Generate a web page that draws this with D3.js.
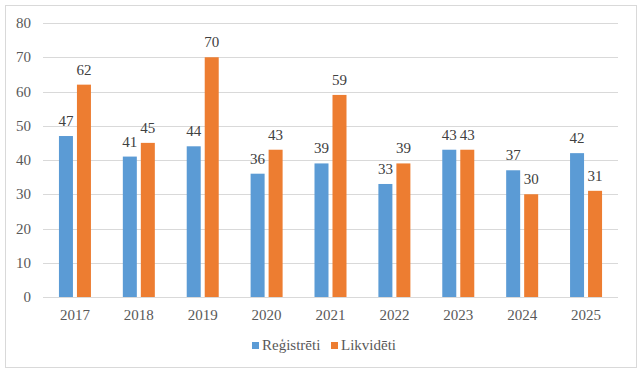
<!DOCTYPE html>
<html>
<head>
<meta charset="utf-8">
<script src="https://cdn.jsdelivr.net/npm/d3@7"></script>
<style>
  body { margin: 0; background: #fff; font-family: "Liberation Serif", serif; }
</style>
</head>
<body>
<svg id="chart" width="643" height="373"></svg>
<script>
// Chart data
const years = ["2017", "2018", "2019", "2020", "2021", "2022", "2023", "2024", "2025"];
const registreti = [47, 41, 44, 36, 39, 33, 43, 37, 42];
const likvideti = [62, 45, 70, 43, 59, 39, 43, 30, 31];
const seriesNames = ["Reģistrēti", "Likvidēti"];
const yTicks = [0, 10, 20, 30, 40, 50, 60, 70, 80];

const colors = ["#5B9BD5", "#ED7D31"];
const serifFont = "'Liberation Serif', 'Times New Roman', serif";

const svg = d3.select("#chart");
const margin = { left: 43, right: 25, top: 23, bottom: 76 };
const width = 643, height = 373;

// outer border
svg.append("rect")
    .attr("x", 5.5).attr("y", 5.5)
    .attr("width", 631).attr("height", 362)
    .attr("fill", "#fff")
    .attr("stroke", "#d9d9d9")
    .attr("stroke-width", 1);

const x = d3.scaleBand()
    .domain(years)
    .range([margin.left, width - margin.right]);

const y = d3.scaleLinear()
    .domain([0, 80])
    .range([height - margin.bottom, margin.top]);

// gridlines
svg.append("g")
    .selectAll("line")
    .data(yTicks)
    .join("line")
    .attr("x1", margin.left)
    .attr("x2", width - margin.right)
    .attr("y1", d => Math.round(y(d)) + 0.5)
    .attr("y2", d => Math.round(y(d)) + 0.5)
    .attr("stroke", "#d9d9d9")
    .attr("stroke-width", 1);

// y labels
svg.append("g")
    .selectAll("text")
    .data(yTicks)
    .join("text")
    .attr("x", 31)
    .attr("y", d => y(d) + 5)
    .attr("text-anchor", "end")
    .attr("fill", "#595959")
    .text(d => d);

// x labels
svg.append("g")
    .selectAll("text")
    .data(years)
    .join("text")
    .attr("x", d => x(d) + x.bandwidth() / 2)
    .attr("y", y(0) + 23)
    .attr("text-anchor", "middle")
    .attr("fill", "#595959")
    .text(d => d);

// bars
const barW = 14, gap = 4;
const series = [registreti, likvideti];
series.forEach((vals, s) => {
    const off = s === 0 ? -gap / 2 - barW : gap / 2;
    const g = svg.append("g");
    g.selectAll("rect")
        .data(vals)
        .join("rect")
        .attr("x", (d, i) => x(years[i]) + x.bandwidth() / 2 + off)
        .attr("y", d => y(d))
        .attr("width", barW)
        .attr("height", d => y(0) - y(d))
        .attr("fill", colors[s]);
    g.selectAll("text")
        .data(vals)
        .join("text")
        .attr("x", (d, i) => x(years[i]) + x.bandwidth() / 2 + off + barW / 2)
        .attr("y", d => y(d) - 10)
        .attr("text-anchor", "middle")
        .attr("fill", "#404040")
        .text(d => d);
});

// legend
const legendX = [252, 331];
seriesNames.forEach((name, s) => {
    svg.append("rect")
        .attr("x", legendX[s])
        .attr("y", 342)
        .attr("width", 7)
        .attr("height", 7)
        .attr("fill", colors[s]);
    svg.append("text")
        .attr("x", legendX[s] + 10)
        .attr("y", 350)
        .attr("fill", "#595959")
        .text(name);
});

// font on all text, applied again once the font is ready
function applyFont() {
    svg.selectAll("text")
        .attr("font-family", serifFont)
        .attr("font-size", 15)
        .style("font-family", serifFont);
}
applyFont();
if (document.fonts && document.fonts.load) {
    document.fonts.load("15px 'Liberation Serif'").then(applyFont);
}
</script>
</body>
</html>
